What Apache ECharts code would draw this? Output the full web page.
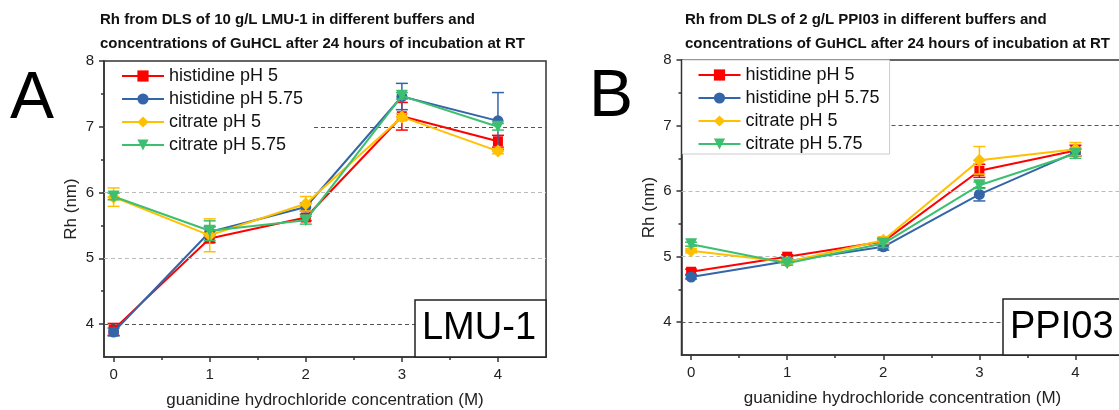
<!DOCTYPE html>
<html><head><meta charset="utf-8">
<script src="https://cdn.jsdelivr.net/npm/echarts@6/dist/echarts.min.js"></script>
<style>html,body{margin:0;padding:0;background:#fff}#c{width:1119px;height:410px}</style>
</head><body><div id="c"></div><script>
// ---------- data ----------
const xValues = [0, 1, 2, 3, 4];
const seriesNames = ['histidine pH 5', 'histidine pH 5.75', 'citrate pH 5', 'citrate pH 5.75'];

// Panel A: LMU-1
const lmuHisPH5      = [3.92, 5.30, 5.62, 7.16, 6.78];
const lmuHisPH5Err   = [0.09, 0.06, 0.05, 0.21, 0.09];
const lmuHisPH575    = [3.88, 5.40, 5.78, 7.46, 7.09];
const lmuHisPH575Err = [0.06, 0.08, 0.06, 0.20, 0.43];
const lmuCitPH5      = [5.93, 5.35, 5.83, 7.15, 6.63];
const lmuCitPH5Err   = [0.14, 0.25, 0.11, 0.05, 0.04];
const lmuCitPH575    = [5.94, 5.42, 5.58, 7.47, 7.00];
const lmuCitPH575Err = [0.05, 0.15, 0.06, 0.05, 0.05];

// Panel B: PPI03
const ppiHisPH5      = [4.77, 5.00, 5.23, 6.31, 6.62];
const ppiHisPH5Err   = [0.04, 0.03, 0.05, 0.10, 0.08];
const ppiHisPH575    = [4.69, 4.93, 5.15, 5.95, 6.59];
const ppiHisPH575Err = [0.03, 0.03, 0.05, 0.10, 0.05];
const ppiCitPH5      = [5.09, 4.92, 5.25, 6.47, 6.64];
const ppiCitPH5Err   = [0.03, 0.03, 0.05, 0.21, 0.10];
const ppiCitPH575    = [5.19, 4.90, 5.20, 6.09, 6.57];
const ppiCitPH575Err = [0.03, 0.03, 0.06, 0.05, 0.07];

const xTickLabels = [0, 1, 2, 3, 4];
const xMinorTicks = [0.5, 1.5, 2.5, 3.5];
const yTickLabels = [4, 5, 6, 7, 8];
const yMinorTicks = [4.5, 5.5, 6.5, 7.5];
const gridLinesDark = [4, 7];
const gridLinesLight = [5, 6];

const titleA = 'Rh from DLS of 10 g/L LMU-1 in different buffers and\nconcentrations of GuHCL after 24 hours of incubation at RT';
const titleB = 'Rh from DLS of 2 g/L PPI03 in different buffers and\nconcentrations of GuHCL after 24 hours of incubation at RT';
const xName = 'guanidine hydrochloride concentration (M)';
const yName = 'Rh (nm)';

// ---------- styling ----------
const FONT = 'Liberation Sans, Arial, sans-serif';
const colors = ['#ff0000', '#3465a8', '#ffc000', '#3cbf6e'];
const symbols = ['rect', 'circle', 'diamond', 'triangle'];
const symbolSizes = [10, 11, 13, 12];
const symbolRotates = [0, 0, 0, 180];

const panels = [
  { vals: [lmuHisPH5, lmuHisPH575, lmuCitPH5, lmuCitPH575],
    errs: [lmuHisPH5Err, lmuHisPH575Err, lmuCitPH5Err, lmuCitPH575Err] },
  { vals: [ppiHisPH5, ppiHisPH575, ppiCitPH5, ppiCitPH575],
    errs: [ppiHisPH5Err, ppiHisPH575Err, ppiCitPH5Err, ppiCitPH575Err] }
];

const grids = [
  { left: 104, top: 61, width: 442, height: 296 },
  { left: 681.5, top: 60, width: 442, height: 295 }
];

const axisColor = '#333';
const xAxes = [], yAxes = [], series = [];
grids.forEach((g, gi) => {
  xAxes.push({
    type: 'value', gridIndex: gi, position: 'bottom', min: -0.1, max: 4.5,
    axisLine: { onZero: false, lineStyle: { color: axisColor, width: 1.5 } },
    axisTick: { customValues: xTickLabels, length: 5, lineStyle: { color: axisColor, width: 1.5 } },
    axisLabel: { customValues: xTickLabels, fontSize: 15, color: '#222', fontFamily: FONT, margin: 10 },
    splitLine: { show: false },
    name: xName, nameLocation: 'middle', nameGap: 35,
    nameTextStyle: { fontSize: 17, color: '#222', fontFamily: FONT }
  });
  xAxes.push({
    type: 'value', gridIndex: gi, position: 'bottom', min: -0.1, max: 4.5,
    axisLine: { show: false, onZero: false },
    axisTick: { customValues: xMinorTicks, length: 3, lineStyle: { color: axisColor, width: 1.5 } },
    axisLabel: { show: false }, splitLine: { show: false }
  });
  yAxes.push({
    type: 'value', gridIndex: gi, position: 'left', min: 3.5, max: 8,
    axisLine: { show: true, onZero: false, lineStyle: { color: axisColor, width: 1.5 } },
    axisTick: { show: true, customValues: yTickLabels, length: 5, lineStyle: { color: axisColor, width: 1.5 } },
    axisLabel: { customValues: yTickLabels, fontSize: 15, color: '#222', fontFamily: FONT, margin: 10 },
    splitLine: { show: false },
    name: yName, nameLocation: 'middle', nameGap: 24, nameRotate: 90,
    nameTextStyle: { fontSize: 17, color: '#222', fontFamily: FONT }
  });
  yAxes.push({
    type: 'value', gridIndex: gi, position: 'left', min: 3.5, max: 8,
    axisLine: { show: false, onZero: false },
    axisTick: { show: true, customValues: yMinorTicks, length: 3, lineStyle: { color: axisColor, width: 1.5 } },
    axisLabel: { show: false }, splitLine: { show: false }
  });

  const p = panels[gi];
  // grid reference lines via markLine on a helper series
  series.push({
    type: 'line', name: 'grid' + gi, xAxisIndex: gi * 2, yAxisIndex: gi * 2,
    data: [], silent: true, z: 1,
    markLine: {
      silent: true, symbol: ['none', 'none'], label: { show: false },
      data: gridLinesDark.map(v => ({ yAxis: v, lineStyle: { color: '#555', type: [4, 3], width: 1 } }))
        .concat(gridLinesLight.map(v => ({ yAxis: v, lineStyle: { color: '#bbb', type: [4, 3], width: 1 } })))
    }
  });
  for (let s = 0; s < 4; s++) {
    const c = colors[s];
    series.push({
      type: 'custom', name: 'err' + gi + '_' + s, xAxisIndex: gi * 2, yAxisIndex: gi * 2,
      z: 2 + s * 2, itemStyle: { color: c }, silent: true,
      encode: { x: 0, y: 1 },
      data: xValues.map((x, i) => [x, p.vals[s][i], p.errs[s][i]]),
      renderItem: function (params, api) {
        const x = api.value(0), y = api.value(1), e = api.value(2);
        const hi = api.coord([x, y + e]), lo = api.coord([x, y - e]);
        const w = 6, st = { stroke: c, lineWidth: 1.5 };
        return { type: 'group', children: [
          { type: 'line', shape: { x1: hi[0], y1: hi[1], x2: lo[0], y2: lo[1] }, style: st },
          { type: 'line', shape: { x1: hi[0] - w, y1: hi[1], x2: hi[0] + w, y2: hi[1] }, style: st },
          { type: 'line', shape: { x1: lo[0] - w, y1: lo[1], x2: lo[0] + w, y2: lo[1] }, style: st }
        ]};
      }
    });
    series.push({
      type: 'line', name: seriesNames[s], xAxisIndex: gi * 2, yAxisIndex: gi * 2,
      z: 3 + s * 2,
      data: xValues.map((x, i) => [x, p.vals[s][i]]),
      symbol: symbols[s], symbolSize: symbolSizes[s], symbolRotate: symbolRotates[s],
      showAllSymbol: true,
      lineStyle: { color: c, width: 2 }, itemStyle: { color: c, borderWidth: 0 },
      emphasis: { disabled: true }
    });
  }
});

const legendBase = {
  data: seriesNames, orient: 'vertical', backgroundColor: '#fff',
  itemGap: 3, itemWidth: 42, itemHeight: 14, z: 20,
  textStyle: { fontSize: 18, fontFamily: FONT, color: '#111', lineHeight: 20 }
};

const option = {
  animation: false,
  backgroundColor: '#fff',
  title: [
    { text: titleA, left: 100, top: 8, padding: 0,
      textStyle: { fontSize: 15, fontWeight: 'bold', lineHeight: 24, fontFamily: FONT, color: '#111' } },
    { text: titleB, left: 685, top: 8, padding: 0,
      textStyle: { fontSize: 15, fontWeight: 'bold', lineHeight: 24, fontFamily: FONT, color: '#111' } }
  ],
  grid: grids.map(g => Object.assign({ show: true, borderColor: axisColor, borderWidth: 1.5, backgroundColor: 'transparent', outerBoundsMode: 'none', containLabel: false }, g)),
  xAxis: xAxes,
  yAxis: yAxes,
  legend: [
    Object.assign({}, legendBase, { left: 105, top: 62, borderWidth: 0, padding: [4, 9, 5, 16] }),
    Object.assign({}, legendBase, { left: 682.5, top: 60, borderWidth: 1, borderColor: '#ccc', padding: [5, 10, 0, 15] })
  ],
  graphic: [
    { type: 'text', left: 10, top: 67, z: 50, style: { text: 'A', font: '66px ' + FONT, fill: '#000' } },
    { type: 'text', left: 589, top: 65, z: 50, style: { text: 'B', font: '66px ' + FONT, fill: '#000' } },
    { type: 'rect', z: 50, shape: { x: 415, y: 300, width: 131, height: 57 },
      style: { fill: '#fff', stroke: '#222', lineWidth: 1.5 } },
    { type: 'text', z: 51, x: 479, y: 329, style: { text: 'LMU-1', font: '38px ' + FONT, fill: '#000', align: 'center', verticalAlign: 'middle' } },
    { type: 'rect', z: 50, shape: { x: 1003, y: 299, width: 130, height: 56 },
      style: { fill: '#fff', stroke: '#222', lineWidth: 1.5 } },
    { type: 'text', z: 51, x: 1010, y: 328, style: { text: 'PPI03', font: '38px ' + FONT, fill: '#000', align: 'left', verticalAlign: 'middle' } }
  ],
  series: series
};

const chart = echarts.init(document.getElementById('c'), null, { renderer: 'canvas' });
chart.setOption(option);
</script></body></html>
